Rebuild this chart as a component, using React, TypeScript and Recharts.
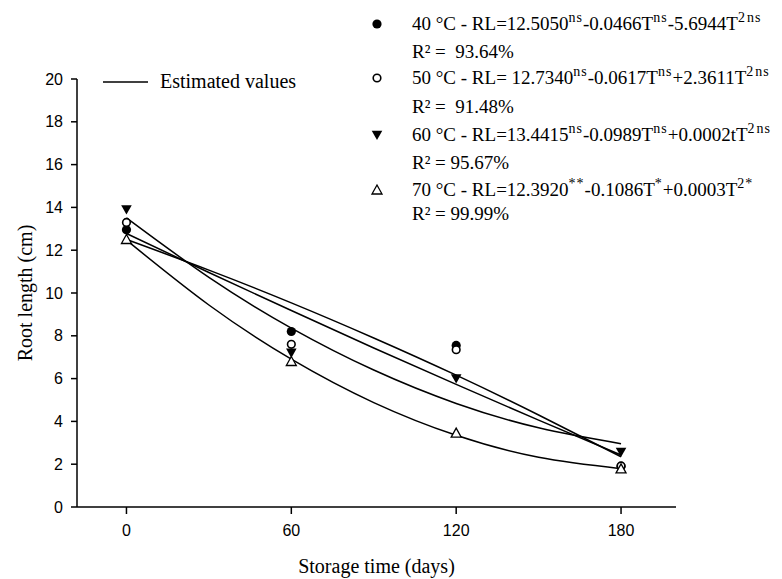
import React from 'react';
import { ComposedChart, Line, XAxis, YAxis, Label } from 'recharts';

// Observed data (storage time in days)
const storageDays = [0, 60, 120, 180];
const observed40 = [12.95, 8.2, 7.55, 1.9];
const observed50 = [13.3, 7.6, 7.35, 1.92];
const observed60 = [13.9, 7.2, 6.0, 2.57];
const observed70 = [12.5, 6.8, 3.45, 1.78];

// Estimated (fitted) curves
const curveDays = [0, 30, 60, 90, 120, 150, 180];
const estimated40 = [12.5, 11.07, 9.54, 7.9, 6.16, 4.3, 2.35];
const estimated50 = [12.78, 10.96, 9.18, 7.43, 5.73, 4.06, 2.43];
const estimated60 = [13.51, 10.73, 8.36, 6.4, 4.84, 3.7, 2.96];
const estimated70 = [12.47, 9.44, 6.91, 4.88, 3.35, 2.32, 1.79];

const xTicks = [0, 60, 120, 180];
const yTicks = [0, 2, 4, 6, 8, 10, 12, 14, 16, 18, 20];

const toRows = (xs: number[], ys: number[]) => xs.map((T, i) => ({ T, v: ys[i] }));

type Shape = 'filledCircle' | 'openCircle' | 'filledDown' | 'openUp';

function Marker({ shape, cx, cy }: { shape: Shape; cx: number; cy: number }) {
  if (shape === 'filledCircle') return <circle cx={cx} cy={cy} r={4.6} fill="#000" />;
  if (shape === 'openCircle')
    return <circle cx={cx} cy={cy} r={3.8} fill="#fff" stroke="#000" strokeWidth={1.6} />;
  if (shape === 'filledDown')
    return (
      <path d={`M${cx - 5.3},${cy - 4.3}L${cx + 5.3},${cy - 4.3}L${cx},${cy + 5}Z`} fill="#000" />
    );
  return (
    <path
      d={`M${cx},${cy - 5}L${cx - 5},${cy + 4}L${cx + 5},${cy + 4}Z`}
      fill="#fff"
      stroke="#000"
      strokeWidth={1.3}
    />
  );
}

const series = [
  { name: '40', obs: observed40, est: estimated40, shape: 'filledCircle' as Shape },
  { name: '50', obs: observed50, est: estimated50, shape: 'openCircle' as Shape },
  { name: '60', obs: observed60, est: estimated60, shape: 'filledDown' as Shape },
  { name: '70', obs: observed70, est: estimated70, shape: 'openUp' as Shape },
];

const serif = '"Liberation Serif", "Times New Roman", serif';
const sans = '"Liberation Sans", Arial, sans-serif';

const sup: React.CSSProperties = { fontSize: 14, position: 'relative', top: -8, letterSpacing: 1 };
const supGap: React.CSSProperties = { ...sup, marginLeft: 1 };

const legendRows: { shape: Shape; y: number; r2y: number; eq: React.ReactNode; r2: string }[] = [
  {
    shape: 'filledCircle',
    y: 24,
    r2y: 52,
    eq: (
      <>
        40 °C - RL=12.5050<span style={sup}>ns</span>-0.0466T<span style={sup}>ns</span>-5.6944T
        <span style={sup}>2</span>
        <span style={supGap}>ns</span>
      </>
    ),
    r2: 'R² =  93.64%',
  },
  {
    shape: 'openCircle',
    y: 78,
    r2y: 107,
    eq: (
      <>
        50 °C - RL= 12.7340<span style={sup}>ns</span>-0.0617T<span style={sup}>ns</span>+2.3611T
        <span style={sup}>2</span>
        <span style={supGap}>ns</span>
      </>
    ),
    r2: 'R² =  91.48%',
  },
  {
    shape: 'filledDown',
    y: 135,
    r2y: 163,
    eq: (
      <>
        60 °C - RL=13.4415<span style={sup}>ns</span>-0.0989T<span style={sup}>ns</span>+0.0002tT
        <span style={sup}>2</span>
        <span style={supGap}>ns</span>
      </>
    ),
    r2: 'R² = 95.67%',
  },
  {
    shape: 'openUp',
    y: 190,
    r2y: 214,
    eq: (
      <>
        70 °C - RL=12.3920<span style={sup}>**</span>-0.1086T<span style={sup}>*</span>+0.0003T
        <span style={sup}>2*</span>
      </>
    ),
    r2: 'R² = 99.99%',
  },
];

const legendText: React.CSSProperties = {
  position: 'absolute',
  left: 412,
  lineHeight: '22px',
  fontFamily: serif,
  fontSize: 19,
  whiteSpace: 'pre',
  color: '#000',
};

export default function App() {
  return (
    <div style={{ position: 'absolute', left: 0, top: 0, width: 782, height: 579, background: '#fff' }}>
      <ComposedChart width={782} height={579} margin={{ top: 79, right: 106, bottom: 0, left: 0 }}>
        <XAxis
          dataKey="T"
          type="number"
          domain={[-18, 200]}
          allowDataOverflow
          ticks={xTicks}
          height={72}
          tickSize={7}
          tickMargin={11}
          stroke="#000"
          strokeWidth={1.5}
          tick={{ fill: '#000', fontSize: 16, fontFamily: sans }}
          tickLine={{ stroke: '#000', strokeWidth: 1.5 }}
        >
          <Label
            content={() => (
              <text x={376.5} y={573} textAnchor="middle" fontFamily={serif} fontSize={20} fill="#000">
                Storage time (days)
              </text>
            )}
          />
        </XAxis>
        <YAxis
          type="number"
          domain={[0, 20]}
          ticks={yTicks}
          width={77}
          tickSize={6}
          tickMargin={8}
          stroke="#000"
          strokeWidth={1.5}
          tick={{ fill: '#000', fontSize: 16, fontFamily: sans }}
          tickLine={{ stroke: '#000', strokeWidth: 1.5 }}
        >
          <Label
            content={() => (
              <text
                x={32}
                y={293}
                transform="rotate(-90, 32, 293)"
                textAnchor="middle"
                fontFamily={serif}
                fontSize={20}
                fill="#000"
              >
                Root length (cm)
              </text>
            )}
          />
        </YAxis>
        {series.map((s) => (
          <Line
            key={`est-${s.name}`}
            data={toRows(curveDays, s.est)}
            dataKey="v"
            type="natural"
            stroke="#000"
            strokeWidth={1.5}
            dot={false}
            activeDot={false}
            isAnimationActive={false}
          />
        ))}
        {series.map((s) => (
          <Line
            key={`obs-${s.name}`}
            data={toRows(storageDays, s.obs)}
            dataKey="v"
            stroke="none"
            activeDot={false}
            isAnimationActive={false}
            dot={(p: any) => (
              <Marker key={`m-${s.name}-${p.index}`} shape={s.shape} cx={p.cx} cy={p.cy} />
            )}
          />
        ))}
      </ComposedChart>

      {/* Estimated values legend */}
      <svg style={{ position: 'absolute', left: 0, top: 0 }} width={782} height={579} pointerEvents="none">
        <line x1={103} y1={82} x2={148} y2={82} stroke="#000" strokeWidth={1.5} />
        <text x={160} y={88} fontFamily={serif} fontSize={20} fill="#000">
          Estimated values
        </text>
        {legendRows.map((r) => (
          <Marker key={`lg-${r.shape}`} shape={r.shape} cx={377} cy={r.y} />
        ))}
      </svg>

      {legendRows.map((r) => (
        <React.Fragment key={`lt-${r.shape}`}>
          <div style={{ ...legendText, top: r.y - 11 }}>{r.eq}</div>
          <div style={{ ...legendText, top: r.r2y - 11 }}>{r.r2}</div>
        </React.Fragment>
      ))}
    </div>
  );
}
